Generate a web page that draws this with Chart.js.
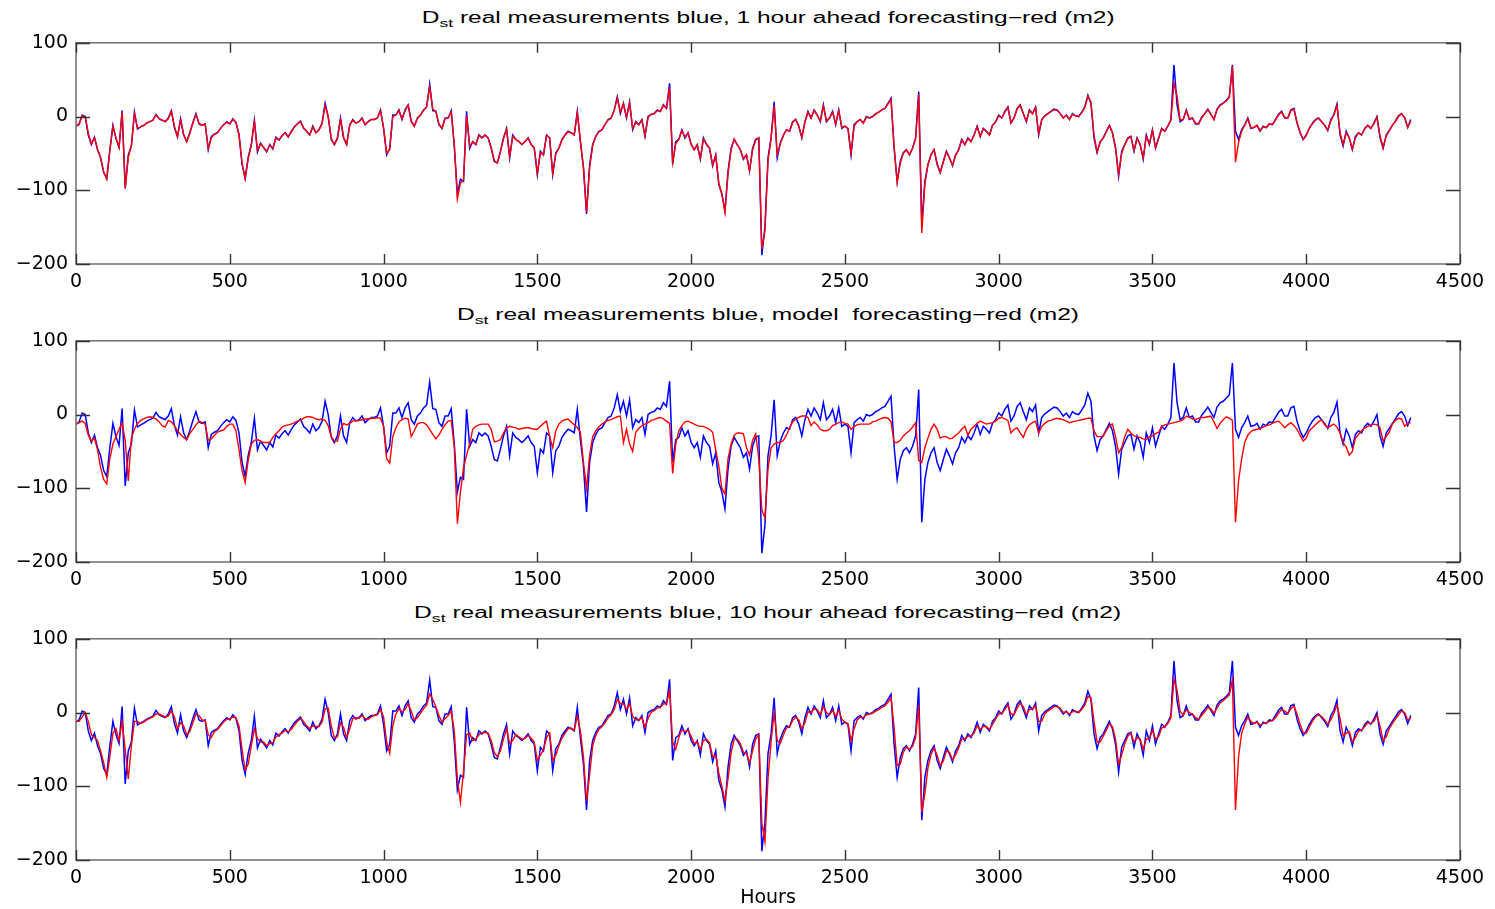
<!DOCTYPE html>
<html>
<head>
<meta charset="utf-8">
<script src="https://cdn.jsdelivr.net/npm/chart.js@4.4.1/dist/chart.umd.min.js"></script>
<style>
  html,body{margin:0;padding:0;background:#fff;}
  body{width:1495px;height:909px;overflow:hidden;position:relative;}
  canvas{position:absolute;left:0;}
  .title{position:absolute;left:768px;font-family:"Liberation Sans",Arial,sans-serif;font-size:16px;line-height:16px;color:#000;white-space:pre;transform-origin:center center;}
  .title sub{font-size:0.72em;vertical-align:-0.35em;line-height:0;}
</style>
</head>
<body>
<div class="title" id="t1" data-w="693" style="top:10px">D<sub>st</sub> real measurements blue, 1 hour ahead forecasting−red (m2)</div>
<canvas id="c1" width="1495" height="274" style="top:24px"></canvas>
<div class="title" id="t2" data-w="622" style="top:307px">D<sub>st</sub> real measurements blue, model  forecasting−red (m2)</div>
<canvas id="c2" width="1495" height="274" style="top:322px"></canvas>
<div class="title" id="t3" data-w="707" style="top:605px">D<sub>st</sub> real measurements blue, 10 hour ahead forecasting−red (m2)</div>
<canvas id="c3" width="1495" height="289" style="top:620px"></canvas>
<script>
// ---------------- DATA (hours sampled every STEP hours, starting at 0) ----------------
const STEP = 10;
const xTicks = [0,500,1000,1500,2000,2500,3000,3500,4000,4500];
const yTicks = [-200,-100,0,100];
const xTitle = 'Hours';

// measured Dst (blue)
const blueDst = [
-13,-10,2,0,-25,-38,-28,-45,-56,-76,
-84,-45,-12,-30,-42,8,-97,-52,-40,6,
-17,-14,-12,-9,-7,-5,3,-3,-5,-7,
-2,8,-15,-28,-3,-25,-34,-22,-8,4,
-10,-12,-10,-45,-27,-24,-22,-16,-11,-7,
-10,-3,-8,-25,-65,-84,-55,-38,-5,-48,
-36,-42,-48,-38,-44,-28,-32,-26,-22,-28,
-20,-14,-10,-6,-16,-20,-25,-13,-22,-18,
-9,18,0,-31,-38,-29,-2,-29,-38,-11,
-4,-9,-7,-2,-11,-7,-4,-4,-2,9,
-16,-52,-43,2,2,9,-4,9,16,-7,
-13,-2,2,9,13,44,8,7,-11,-16,
-2,-2,8,-40,-105,-85,-88,7,-43,-34,
-38,-25,-29,-25,-29,-43,-61,-63,-47,-29,
-16,-56,-25,-31,-34,-38,-34,-29,-38,-43,
-79,-47,-52,-25,-29,-79,-49,-43,-31,-25,
-20,-22,-25,7,-34,-70,-132,-65,-38,-27,
-20,-18,-11,-4,-2,9,27,4,18,-2,
20,-18,-7,-11,-4,-27,0,3,4,9,
7,16,11,45,-65,-34,-31,-18,-29,-22,
-38,-45,-38,-58,-29,-38,-43,-67,-52,-92,
-105,-128,-74,-43,-31,-38,-45,-58,-52,-74,
-43,-31,-29,-188,-150,-56,-29,20,-56,-36,
-25,-18,-20,-7,-4,-13,-29,-7,7,-2,
9,2,-7,16,-7,-2,7,-11,9,-16,
-13,-16,-52,-11,-7,-4,-9,0,-2,0,
4,6,9,11,18,25,-43,-88,-61,-49,
-45,-52,-43,-29,34,-146,-88,-65,-52,-45,
-65,-76,-61,-47,-56,-67,-52,-45,-31,-38,
-29,-34,-25,-13,-27,-16,-20,-25,-12,-7,
2,-2,7,13,-9,-2,11,16,4,-7,
9,4,13,-25,-4,1,4,7,10,9,
4,-2,2,-4,4,1,0,6,13,29,
18,-29,-49,-34,-29,-20,-12,-22,-43,-81,
-47,-38,-29,-27,-47,-29,-38,-58,-25,-38,
-18,-43,-29,-16,-20,-13,-4,70,16,-7,
-4,9,-4,-2,-10,-10,-1,4,10,3,
-4,10,16,18,22,27,70,-20,-31,-18,
-11,-2,-16,-15,-12,-20,-13,-15,-10,-11,
-4,3,7,-2,-2,9,11,-9,-22,-31,
-25,-16,-9,-4,-2,-7,-12,-19,-4,3,
17,-25,-40,-20,-29,-45,-27,-22,-25,-16,
-12,-16,-9,0,-29,-43,-25,-19,-12,-6,
1,4,-2,-15,-4
];

// 1 hour ahead forecast (red, top panel)
const red1h = [
-13,-11,1,0,-23,-37,-29,-44,-56,-75,
-85,-47,-13,-29,-42,6,-98,-55,-40,4,
-16,-14,-12,-9,-7,-5,2,-3,-5,-7,
-3,7,-13,-27,-5,-24,-34,-23,-9,3,
-9,-12,-10,-43,-29,-24,-22,-16,-11,-8,
-10,-4,-8,-24,-63,-84,-57,-39,-7,-46,
-37,-42,-47,-39,-43,-29,-32,-26,-22,-27,
-21,-14,-10,-7,-15,-20,-25,-14,-22,-18,
-10,15,0,-30,-38,-30,-4,-28,-38,-12,
-5,-9,-7,-3,-11,-7,-4,-4,-2,8,
-15,-50,-45,0,2,8,-3,8,15,-6,
-13,-3,2,8,13,40,10,7,-10,-16,
-3,-2,6,-38,-112,-90,-86,2,-40,-34,
-38,-26,-29,-25,-29,-42,-60,-63,-48,-30,
-17,-54,-27,-31,-34,-38,-34,-29,-38,-42,
-77,-49,-52,-26,-29,-77,-51,-43,-32,-25,
-21,-22,-25,5,-33,-69,-130,-70,-39,-27,
-21,-18,-11,-5,-2,8,25,6,17,-1,
18,-16,-8,-11,-5,-26,-1,3,4,8,
7,15,11,40,-62,-37,-31,-19,-28,-22,
-37,-45,-39,-57,-31,-37,-43,-66,-53,-90,
-105,-130,-78,-45,-31,-38,-45,-57,-52,-73,
-45,-32,-29,-180,-155,-60,-30,15,-52,-37,
-26,-18,-20,-8,-4,-13,-28,-8,6,-2,
8,2,-6,14,-6,-2,6,-10,8,-15,
-13,-16,-50,-13,-7,-4,-9,-1,-2,0,
3,6,9,11,17,23,-40,-90,-63,-50,
-45,-52,-43,-30,30,-158,-92,-66,-52,-45,
-64,-76,-62,-48,-56,-66,-53,-45,-32,-38,
-30,-34,-25,-14,-27,-17,-20,-25,-12,-8,
1,-2,6,12,-8,-2,10,15,4,-6,
8,4,12,-23,-5,1,4,7,9,9,
4,-2,2,-4,3,1,0,5,12,27,
20,-25,-48,-35,-29,-21,-12,-22,-42,-78,
-50,-38,-30,-27,-46,-30,-38,-56,-27,-37,
-19,-42,-30,-17,-20,-13,-5,45,28,-5,
-4,8,-3,-2,-9,-10,-2,4,9,3,
-4,9,15,18,21,26,68,-62,-35,-20,
-12,-3,-15,-15,-12,-19,-14,-15,-10,-11,
-5,2,6,-1,-2,8,10,-8,-21,-31,
-26,-16,-10,-5,-2,-7,-12,-18,-6,2,
15,-22,-38,-22,-29,-44,-29,-22,-25,-17,
-12,-16,-10,-1,-26,-42,-27,-19,-12,-7,
0,4,-1,-14,-6
];

// model forecast (red, middle panel)
const redModel = [
-13,-11,-9,-12,-28,-36,-32,-48,-72,-88,
-94,-60,-40,-30,-20,-12,-35,-90,-32,-20,
-12,-8,-6,-4,-3,-4,-6,-10,-15,-17,
-8,-10,-15,-22,-27,-31,-34,-26,-20,-14,
-9,-11,-13,-35,-33,-28,-24,-22,-21,-16,
-13,-13,-22,-48,-76,-92,-62,-40,-35,-34,
-36,-38,-38,-38,-31,-26,-22,-17,-15,-14,
-13,-11,-9,-8,-5,-3,-3,-4,-6,-7,
-6,-8,-15,-30,-36,-36,-20,-12,-14,-12,
-9,-8,-8,-7,-6,-6,-5,-5,-4,-5,
-16,-60,-66,-30,-18,-10,-7,-5,-6,-30,
-22,-13,-11,-11,-14,-20,-27,-33,-28,-20,
-14,-9,-8,-45,-148,-105,-72,-55,-40,-20,
-16,-14,-13,-13,-13,-20,-37,-36,-34,-25,
-18,-16,-17,-18,-20,-19,-18,-18,-19,-20,
-20,-16,-12,-9,-30,-45,-22,-13,-9,-7,
-6,-10,-14,-18,-24,-65,-100,-55,-30,-22,
-17,-13,-10,-8,-7,-5,-3,-2,-38,-20,
-40,-50,-24,-19,-15,-13,-11,-8,-7,-5,
-4,-6,-9,-12,-80,-40,-22,-15,-10,-9,
-11,-13,-15,-16,-16,-18,-20,-24,-48,-70,
-100,-108,-60,-40,-28,-25,-25,-26,-45,-55,
-35,-26,-60,-130,-140,-74,-45,-40,-38,-38,
-35,-28,-18,-10,-6,-4,-2,-2,-4,-15,
-10,-14,-20,-22,-22,-20,-15,-13,-11,-10,
-12,-13,-20,-16,-14,-13,-13,-13,-13,-10,
-9,-7,-5,-4,-5,-10,-38,-38,-35,-29,
-25,-22,-17,-11,-62,-65,-45,-32,-20,-13,
-20,-32,-30,-30,-33,-32,-28,-25,-20,-16,
-28,-20,-16,-12,-9,-11,-13,-12,-11,-9,
-5,-4,-6,-8,-25,-20,-18,-25,-31,-20,
-14,-11,-9,-25,-16,-12,-9,-8,-6,-5,
-6,-7,-9,-11,-10,-9,-8,-7,-6,-5,
-5,-22,-30,-30,-29,-22,-15,-13,-30,-52,
-45,-30,-20,-25,-29,-30,-31,-33,-34,-30,
-29,-26,-24,-16,-14,-13,-12,-11,-10,-9,
-7,-2,-4,-6,-7,-5,-4,-4,-3,-2,
-10,-19,-12,-7,-3,-5,-8,-146,-90,-60,
-38,-28,-23,-21,-20,-19,-17,-15,-14,-12,
-10,-9,-13,-18,-14,-11,-15,-20,-28,-36,
-32,-22,-18,-14,-10,-7,-14,-18,-15,-13,
-17,-25,-38,-44,-55,-50,-32,-27,-22,-18,
-16,-14,-13,-14,-18,-36,-30,-24,-13,-8,
-5,-6,-16,-12,-11
];

// 10 hour ahead forecast (red, bottom panel)
const red10h = [
-12,-12,-6,0,-12,-30,-34,-38,-52,-68,
-88,-60,-28,-22,-38,-12,-50,-90,-45,-12,
-12,-15,-13,-10,-8,-6,-2,-2,-4,-6,
-5,2,-6,-22,-14,-18,-30,-26,-14,-2,
-4,-10,-11,-30,-34,-26,-23,-18,-13,-9,
-9,-6,-7,-18,-50,-78,-70,-45,-22,-35,
-40,-40,-45,-42,-41,-33,-30,-28,-24,-26,
-23,-17,-12,-8,-12,-18,-22,-18,-19,-19,
-13,5,6,-18,-34,-33,-14,-20,-34,-22,
-8,-7,-8,-4,-8,-9,-6,-4,-3,4,
-6,-40,-55,-18,-2,5,1,4,12,2,
-10,-7,-1,5,10,25,18,8,-4,-13,
-8,-4,2,-25,-90,-122,-80,-30,-28,-38,
-36,-30,-28,-27,-28,-38,-54,-60,-52,-36,
-22,-42,-38,-30,-33,-36,-35,-31,-35,-40,
-65,-58,-50,-34,-28,-65,-58,-45,-35,-28,
-22,-21,-24,-5,-25,-60,-120,-85,-45,-31,
-23,-19,-14,-7,-3,4,18,12,12,4,
12,-5,-10,-10,-7,-20,-8,0,3,6,
7,12,12,30,-40,-50,-34,-23,-26,-24,
-32,-42,-40,-50,-38,-36,-41,-60,-58,-82,
-100,-120,-90,-55,-36,-36,-42,-54,-55,-68,
-52,-36,-30,-150,-175,-90,-40,0,-38,-42,
-30,-21,-19,-11,-6,-10,-22,-14,1,0,
5,4,-3,8,0,-3,3,-5,3,-9,
-13,-15,-38,-22,-10,-6,-7,-3,-2,-1,
2,4,7,9,14,20,-20,-72,-70,-54,
-47,-50,-46,-34,10,-135,-110,-75,-57,-48,
-58,-72,-66,-52,-54,-64,-57,-48,-36,-36,
-32,-32,-28,-18,-23,-19,-19,-23,-16,-9,
-2,-1,4,10,-2,-3,6,13,8,-3,
4,5,9,-12,-12,-2,2,5,8,8,
6,0,1,-2,1,2,0,4,10,22,
20,-12,-40,-40,-32,-24,-15,-19,-36,-70,
-58,-42,-32,-28,-40,-34,-36,-50,-36,-35,
-24,-36,-33,-21,-19,-15,-7,45,30,2,
-4,4,0,-2,-7,-9,-4,1,7,5,
-1,6,13,16,20,24,44,-132,-60,-28,
-16,-6,-12,-15,-13,-17,-15,-14,-12,-11,
-7,-1,4,2,-1,5,9,-2,-16,-27,
-28,-20,-12,-6,-3,-5,-10,-16,-10,-1,
10,-8,-32,-28,-26,-40,-34,-25,-24,-19,
-14,-15,-12,-4,-18,-38,-33,-22,-15,-9,
-3,2,0,-10,-8
];

// ---------------- RENDERING ----------------
const FONT = '"DejaVu Sans", "Liberation Sans", sans-serif';
const TICK_FONT = {family: FONT, size: 19, lineHeight: '21.6px'};
const toPts = arr => arr.map((v, i) => ({x: i * STEP, y: v}));

const framePlugin = {
  id: 'frame',
  afterDatasetsDraw(chart) {
    const {ctx, chartArea: a, scales: {x, y}} = chart;
    ctx.save();
    ctx.strokeStyle = '#6e6e6e';
    ctx.lineWidth = 1.5;
    ctx.strokeRect(a.left, a.top, a.right - a.left, a.bottom - a.top);
    ctx.strokeStyle = '#333';
    ctx.lineWidth = 1.4;
    ctx.beginPath();
    x.ticks.forEach(t => {
      const px = Math.round(x.getPixelForValue(t.value)) + 0.5;
      ctx.moveTo(px, a.bottom); ctx.lineTo(px, a.bottom - 10);
      ctx.moveTo(px, a.top); ctx.lineTo(px, a.top + 10);
    });
    y.ticks.forEach(t => {
      const py = Math.round(y.getPixelForValue(t.value)) + 0.5;
      ctx.moveTo(a.left, py); ctx.lineTo(a.left + 14, py);
      ctx.moveTo(a.right, py); ctx.lineTo(a.right - 14, py);
    });
    ctx.stroke();
    ctx.restore();
  }
};

function makeChart(id, redData, withTitle) {
  new Chart(document.getElementById(id), {
    type: 'line',
    data: {
      datasets: [
        {label: 'forecast', data: toPts(redData), borderColor: '#ff0000', borderWidth: 1.4, order: 0},
        {label: 'measured', data: toPts(blueDst), borderColor: '#0000ff', borderWidth: 1.5, order: 1}
      ]
    },
    options: {
      responsive: false,
      animation: false,
      devicePixelRatio: 1,
      layout: {padding: {left: 0, right: 35, top: 10, bottom: 0}},
      elements: {point: {radius: 0}, line: {tension: 0}},
      plugins: {legend: {display: false}, tooltip: {enabled: false}},
      scales: {
        x: {
          type: 'linear', min: 0, max: 4500,
          afterBuildTicks: s => { s.ticks = xTicks.map(v => ({value: v})); },
          afterFit: s => { s.height = withTitle ? 49 : 34; },
          grid: {display: false, drawTicks: false},
          border: {display: false},
          ticks: {padding: 7, color: '#000', maxRotation: 0, autoSkip: false,
                  font: TICK_FONT, callback: v => String(v)},
          title: {display: withTitle, text: xTitle, color: '#000',
                  font: {family: FONT, size: 19, lineHeight: '21.6px'}, padding: {top: 0, bottom: 0}}
        },
        y: {
          type: 'linear', min: -200, max: 100,
          afterBuildTicks: s => { s.ticks = yTicks.map(v => ({value: v})); },
          afterFit: s => { s.width = 76; },
          grid: {display: false, drawTicks: false},
          border: {display: false},
          ticks: {padding: 8, color: '#000', font: TICK_FONT,
                  callback: v => String(v).replace('-', '\u2212')}
        }
      }
    },
    plugins: [framePlugin]
  });
}

makeChart('c1', red1h, false);
makeChart('c2', redModel, false);
makeChart('c3', red10h, true);

// fit titles to the reference width
document.querySelectorAll('.title').forEach(el => {
  const w = el.getBoundingClientRect().width;
  el.style.marginLeft = (-w / 2) + 'px';
  el.style.transform = 'scaleX(' + (Number(el.dataset.w) / w) + ')';
});
</script>
</body>
</html>
